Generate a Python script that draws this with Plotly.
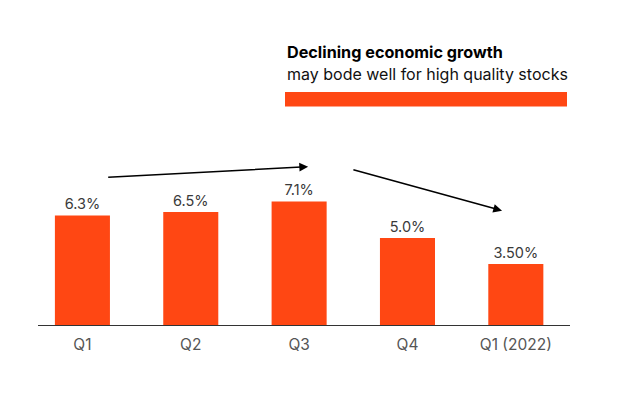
import plotly.graph_objects as go

categories = ["Q1", "Q2", "Q3", "Q4", "Q1 (2022)"]
values = [6.3, 6.5, 7.1, 5.0, 3.5]
labels = ["6.3%", "6.5%", "7.1%", "5.0%", "3.50%"]

title_bold = "Declining economic growth"
title_sub = "may bode well for high quality stocks"

ORANGE = "#ff4713"
FONT = "Inter, Noto Sans, sans-serif"

fig = go.Figure()
fig.add_trace(go.Bar(
    x=list(range(len(categories))),
    y=values,
    text=labels,
    textposition="outside",
    textfont=dict(family=FONT, size=14.5, color="#3a3a3a"),
    marker=dict(color=ORANGE, line=dict(width=0)),
    width=0.508,
    cliponaxis=False,
    hoverinfo="skip",
))

# page body has an 8px offset; figure occupies 612x390 of the 620x398 window
OFF = 8
W, H = 620 - OFF, 398 - OFF
L, R, T, B = 38 - OFF, 50, 130 - OFF, 73

fig.update_layout(
    width=W, height=H,
    margin=dict(l=L, r=R, t=T, b=B, pad=0),
    paper_bgcolor="white", plot_bgcolor="white",
    showlegend=False,
    font=dict(family=FONT, color="#333333"),
    xaxis=dict(
        tickmode="array",
        tickvals=list(range(len(categories))),
        ticktext=categories,
        range=[-0.41, 4.5],
        showgrid=False, zeroline=False,
        showline=True, linecolor="#333333", linewidth=1,
        ticks="", tickfont=dict(family=FONT, size=15.5, color="#555555"),
        ticklabelstandoff=5,
        fixedrange=True,
    ),
    yaxis=dict(
        range=[0, 11.21],
        visible=False,
        fixedrange=True,
    ),
)

# arrows
arrows = [((0.224, 8.49), (2.083, 9.10)), ((2.487, 8.95), (3.873, 6.57))]
for (x0, y0), (x1, y1) in arrows:
    fig.add_annotation(
        x=x1, y=y1, ax=x0, ay=y0,
        xref="x", yref="y", axref="x", ayref="y",
        showarrow=True, arrowhead=2, arrowsize=1.1, arrowwidth=1.6,
        arrowcolor="#000000", text="",
    )

pw = 620 - 38 - 50
ph = 398 - 130 - 73
def px_x(p):
    return (p - 38) / pw
def px_y(p):
    return (325 - p) / ph

fig.add_annotation(
    x=px_x(285), y=px_y(52), xref="paper", yref="paper",
    xanchor="left", yanchor="middle", showarrow=False,
    text="<b>" + title_bold + "</b>",
    font=dict(family=FONT, size=16.2, color="#000000"),
)
fig.add_annotation(
    x=px_x(285), y=px_y(74.5), xref="paper", yref="paper",
    xanchor="left", yanchor="middle", showarrow=False,
    text=title_sub,
    font=dict(family=FONT, size=16, color="#111111"),
)
fig.add_shape(
    type="rect", xref="paper", yref="paper",
    x0=px_x(285), x1=px_x(567), y0=px_y(106.5), y1=px_y(92),
    fillcolor=ORANGE, line=dict(width=0),
)

fig.write_html("out.html")
